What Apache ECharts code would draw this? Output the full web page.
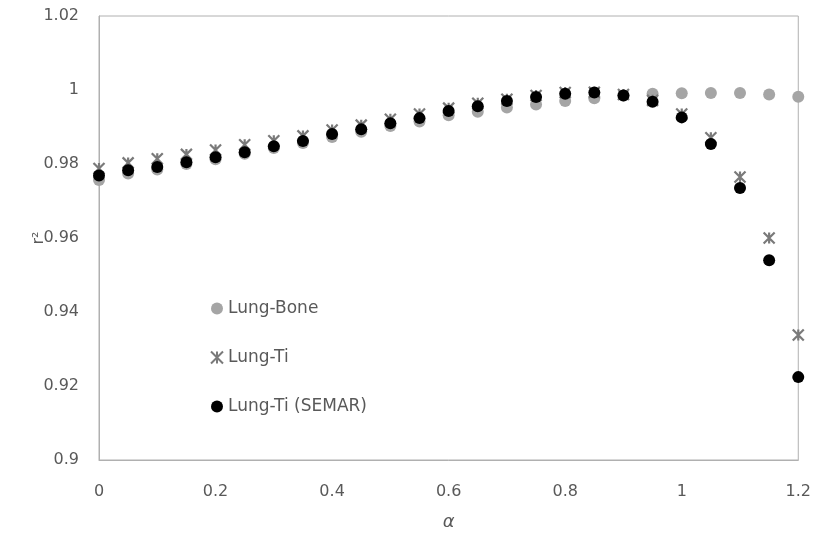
<!DOCTYPE html>
<html>
<head>
<meta charset="utf-8">
<script src="https://cdn.jsdelivr.net/npm/echarts@6/dist/echarts.min.js"></script>
<style>
  html, body { margin: 0; padding: 0; background: #fff; }
  #chart { width: 814px; height: 536px; }
</style>
</head>
<body>
<div id="chart"></div>
<script>
// alpha 값 (x축)
const alphas = [0, 0.05, 0.1, 0.15, 0.2, 0.25, 0.3, 0.35, 0.4, 0.45, 0.5, 0.55, 0.6,
  0.65, 0.7, 0.75, 0.8, 0.85, 0.9, 0.95, 1, 1.05, 1.1, 1.15, 1.2];

const lungBone = [0.9757, 0.9774, 0.9785, 0.9800, 0.9813, 0.9828, 0.9843, 0.9857, 0.9873,
  0.9887, 0.9903, 0.9915, 0.9932, 0.9941, 0.9953, 0.9961, 0.9970, 0.9978, 0.9985,
  0.9990, 0.9991, 0.9992, 0.9992, 0.9988, 0.9982];

const lungTi = [0.9788, 0.9803, 0.9814, 0.9826, 0.9838, 0.9852, 0.9863, 0.9876, 0.9892,
  0.9905, 0.9921, 0.9935, 0.9951, 0.9964, 0.9975, 0.9985, 0.9993, 0.9994, 0.9988,
  0.9972, 0.9935, 0.9871, 0.9765, 0.9600, 0.9338];

const lungTiSemar = [0.9769, 0.9783, 0.9792, 0.9805, 0.9818, 0.9832, 0.9848, 0.9862, 0.9881,
  0.9894, 0.9910, 0.9924, 0.9943, 0.9956, 0.9970, 0.9981, 0.9990, 0.9993, 0.9985,
  0.9968, 0.9926, 0.9854, 0.9735, 0.9540, 0.9224];

const xTicks = { min: 0, max: 1.2, interval: 0.2 };
const yTicks = { min: 0.9, max: 1.02, interval: 0.02 };

function pairs(ys) {
  return alphas.map((a, i) => [a, ys[i]]);
}

// 별표 모양 마커 (X + 세로선)
const starPath = 'path://M0,0L10,10M10,0L0,10M5,0L5,10';

const labelFont = '"DejaVu Sans", sans-serif';

const option = {
  animation: false,
  grid: { left: 99, right: 15, top: 16, bottom: 73, show: true, borderColor: '#b0b0b0', borderWidth: 1 },
  legend: {
    orient: 'vertical',
    left: 205,
    top: 295,
    itemGap: 32,
    itemWidth: 12,
    itemHeight: 12,
    textStyle: { fontSize: 17, color: '#595959', fontFamily: labelFont, padding: [0, 0, 0, 0] },
    data: ['Lung-Bone', 'Lung-Ti', 'Lung-Ti (SEMAR)']
  },
  xAxis: {
    type: 'value',
    min: xTicks.min, max: xTicks.max, interval: xTicks.interval,
    name: 'α',
    nameLocation: 'middle',
    nameGap: 53,
    nameTextStyle: { fontSize: 18, color: '#595959', fontStyle: 'italic', fontFamily: labelFont },
    axisLine: { show: true, lineStyle: { color: '#b0b0b0' } },
    axisTick: { show: false },
    splitLine: { show: false },
    axisLabel: { fontSize: 16, color: '#595959', margin: 24, fontFamily: labelFont }
  },
  yAxis: {
    type: 'value',
    min: yTicks.min, max: yTicks.max, interval: yTicks.interval,
    name: 'r²',
    nameLocation: 'middle',
    nameGap: 52,
    nameMoveOverlap: false,
    nameRotate: 90,
    nameTextStyle: { fontSize: 16, color: '#595959', fontFamily: labelFont },
    axisLine: { show: true, lineStyle: { color: '#b0b0b0' } },
    axisTick: { show: false },
    splitLine: { show: false },
    axisLabel: { fontSize: 16, color: '#595959', margin: 20, fontFamily: labelFont }
  },
  series: [
    {
      name: 'Lung-Bone',
      type: 'scatter',
      symbol: 'circle',
      symbolSize: 12,
      itemStyle: { color: '#a5a5a5', opacity: 1 },
      data: pairs(lungBone),
      z: 1
    },
    {
      name: 'Lung-Ti',
      type: 'scatter',
      symbol: starPath,
      symbolSize: 11,
      itemStyle: { color: 'rgba(0,0,0,0)', borderColor: '#7a7a7a', borderWidth: 2.2, opacity: 1 },
      data: pairs(lungTi),
      z: 2
    },
    {
      name: 'Lung-Ti (SEMAR)',
      type: 'scatter',
      symbol: 'circle',
      symbolSize: 12,
      itemStyle: { color: '#000000', opacity: 1 },
      data: pairs(lungTiSemar),
      z: 3
    }
  ]
};

const chart = echarts.init(document.getElementById('chart'));
chart.setOption(option);
</script>
</body>
</html>
